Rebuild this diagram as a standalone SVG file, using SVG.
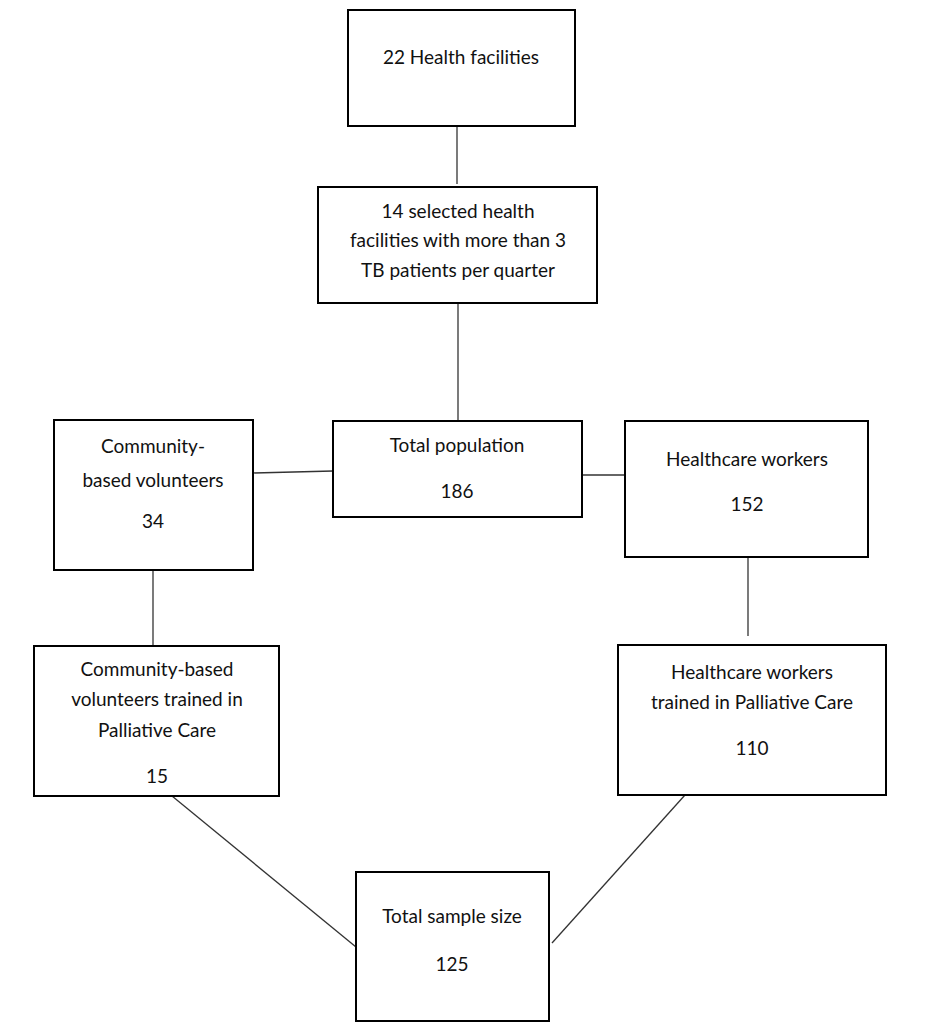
<svg xmlns="http://www.w3.org/2000/svg" width="925" height="1024" viewBox="0 0 925 1024">
<style>
rect{fill:#fff;stroke:#000;stroke-width:2}
line{stroke:#333;stroke-width:1.3}
text{font-family:"Lato","Liberation Sans",sans-serif;font-size:19px;text-anchor:middle;fill:#111}
</style>
<rect x="0" y="0" width="925" height="1024" style="stroke:none"/>
<g id="connectors">
<line x1="457" y1="126" x2="457" y2="184"/>
<line x1="458" y1="303" x2="458" y2="421"/>
<line x1="253" y1="473" x2="333" y2="471"/>
<line x1="582" y1="475" x2="625" y2="475"/>
<line x1="153" y1="570" x2="153" y2="646"/>
<line x1="748" y1="557" x2="748" y2="636"/>
<line x1="172" y1="796" x2="356" y2="947"/>
<line x1="685" y1="795" x2="552" y2="943"/>
</g>
<g id="n1"><rect x="348" y="10" width="227" height="116"/><text x="461" y="64">22 Health facilities</text></g>
<g id="n2"><rect x="318" y="187" width="279" height="116"/><text x="458" y="218">14 selected health</text><text x="458" y="247">facilities with more than 3</text><text x="458" y="277">TB patients per quarter</text></g>
<g id="n3"><rect x="333" y="421" width="249" height="96"/><text x="457" y="452">Total population</text><text x="457" y="498">186</text></g>
<g id="n4"><rect x="54" y="420" width="199" height="150"/><text x="153" y="453">Community-</text><text x="153" y="487">based volunteers</text><text x="153" y="528">34</text></g>
<g id="n5"><rect x="625" y="421" width="243" height="136"/><text x="747" y="466">Healthcare workers</text><text x="747" y="511">152</text></g>
<g id="n6"><rect x="34" y="646" width="245" height="150"/><text x="157" y="676">Community-based</text><text x="157" y="706">volunteers trained in</text><text x="157" y="737">Palliative Care</text><text x="157" y="783">15</text></g>
<g id="n7"><rect x="618" y="645" width="268" height="150"/><text x="752" y="679">Healthcare workers</text><text x="752" y="709">trained in Palliative Care</text><text x="752" y="755">110</text></g>
<g id="n8"><rect x="356" y="872" width="193" height="149"/><text x="452" y="923">Total sample size</text><text x="452" y="971">125</text></g>
</svg>
